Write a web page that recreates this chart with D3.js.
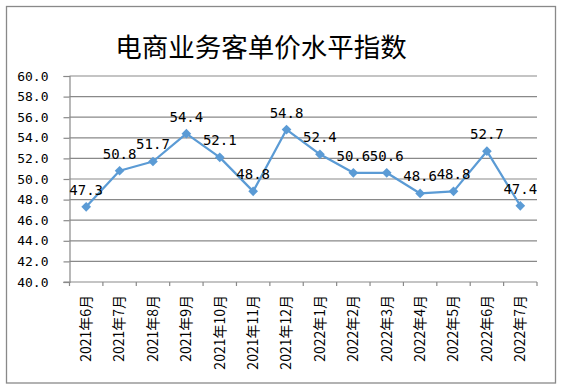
<!DOCTYPE html>
<html><head><meta charset="utf-8">
<script src="https://cdn.jsdelivr.net/npm/d3@7"></script>
<style>body{margin:0;background:#fff}svg{display:block}</style>
</head><body>
<script>
const title = "电商业务客单价水平指数";
const categories = ["2021年6月","2021年7月","2021年8月","2021年9月","2021年10月","2021年11月","2021年12月","2022年1月","2022年2月","2022年3月","2022年4月","2022年5月","2022年6月","2022年7月"];
const values = [47.3,50.8,51.7,54.4,52.1,48.8,54.8,52.4,50.6,50.6,48.6,48.8,52.7,47.4];
const yTicks = [40,42,44,46,48,50,52,54,56,58,60];

const W = 565, H = 391;
const m = {left: 69.5, right: 537, top: 76, bottom: 282};
const svg = d3.select("body").append("svg").attr("width", W).attr("height", H);
svg.append("rect").attr("x",6.5).attr("y",6.5).attr("width",549).attr("height",376.5)
  .attr("fill","#fff").attr("stroke","#898989").attr("stroke-width",1.3);

svg.append("text").attr("x",261).attr("y",57).attr("text-anchor","middle")
  .attr("font-family","'Noto Sans CJK SC'").attr("font-size",26.5).attr("fill","#000").text(title);

const x = d3.scaleBand().domain(categories).range([m.left, m.right]);
const y = d3.scaleLinear().domain([40,60]).range([m.bottom, m.top]);
const gray = "#898989";
const numFont = "'DejaVu Sans Mono'";

// grid
svg.append("g").selectAll("line").data(yTicks.filter(d=>d>40)).join("line")
  .attr("x1", m.left).attr("x2", m.right).attr("y1", d=>y(d)).attr("y2", d=>y(d))
  .attr("stroke", gray).attr("stroke-width",1.2);

// y axis
const ya = svg.append("g").attr("transform",`translate(${m.left},0)`)
  .call(d3.axisLeft(y).tickValues(yTicks).tickFormat(d3.format(".1f")).tickSize(6).tickPadding(15));
ya.select(".domain").attr("stroke",gray).attr("stroke-width",1.2);
ya.selectAll(".tick line").attr("stroke",gray).attr("stroke-width",1.2);
ya.selectAll(".tick text").attr("font-family",numFont).attr("font-size",13).attr("fill","#000");

// x axis
const xa = svg.append("g").attr("transform",`translate(0,${m.bottom})`)
  .call(d3.axisBottom(x).tickSize(0).tickFormat(d=>d));
xa.select(".domain").attr("stroke",gray).attr("stroke-width",1.2).attr("d",`M${m.left-6},0H${m.right}`);
xa.selectAll(".tick text").attr("font-family","'Noto Sans CJK SC', 'DejaVu Sans'").attr("font-size",14).attr("fill","#000")
  .attr("transform","rotate(-90)").attr("text-anchor","end").attr("x",-13).attr("y",0).attr("dy","0.35em");
// boundary ticks
const bounds = categories.map(c=>x(c)).concat([m.right]);
xa.append("g").selectAll("line").data(bounds).join("line")
  .attr("x1",d=>d).attr("x2",d=>d).attr("y1",0).attr("y2",4).attr("stroke",gray).attr("stroke-width",1.2);

// line
const cx = (d,i)=> x(categories[i]) + x.bandwidth()/2;
const line = d3.line().x(cx).y(d=>y(d));
svg.append("path").datum(values).attr("d",line).attr("fill","none")
  .attr("stroke","#5B9BD5").attr("stroke-width",2.25).attr("stroke-linejoin","round");
svg.append("g").selectAll("path").data(values).join("path")
  .attr("d", d3.symbol(d3.symbolDiamond2, 60))
  .attr("transform",(d,i)=>`translate(${cx(d,i)},${y(d)})`)
  .attr("fill","#5B9BD5");

// labels
svg.append("g").selectAll("text").data(values).join("text")
  .attr("x",(d,i)=>cx(d,i)).attr("y",d=>y(d)-12).attr("text-anchor","middle")
  .attr("font-family",numFont).attr("font-size",14).attr("fill","#000")
  .text(d=>d.toFixed(1));
</script>
</body></html>
